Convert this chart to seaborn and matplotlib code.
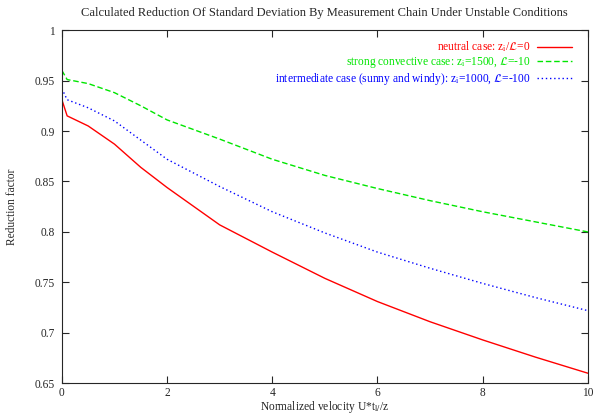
import matplotlib
matplotlib.use('Agg')
import matplotlib.pyplot as plt
import pandas as pd
import seaborn as sns

# normalized velocity U*t/z
u = [0, 0.1, 0.5, 1, 1.5, 2, 3, 4, 5, 6, 7, 8, 9, 10]

neutral = [0.931, 0.915, 0.905, 0.887, 0.864, 0.844, 0.807, 0.780, 0.754,
           0.731, 0.711, 0.693, 0.676, 0.660]
convective = [0.960, 0.951, 0.947, 0.938, 0.925, 0.911, 0.892, 0.872, 0.856,
              0.843, 0.831, 0.820, 0.810, 0.800]
intermediate = [0.942, 0.931, 0.923, 0.910, 0.891, 0.872, 0.845, 0.820, 0.799,
                0.780, 0.764, 0.749, 0.735, 0.722]

labels = [r'neutral case: z$_\mathrm{i}$/$\mathcal{L}$=0',
          r'strong convective case: z$_\mathrm{i}$=1500, $\mathcal{L}$=-10',
          r'intermediate case (sunny and windy): z$_\mathrm{i}$=1000, $\mathcal{L}$=-100']
colors = ['#ff0000', '#00e600', '#0000ff']
styles = ['-', (0, (4, 2)), (0, (1, 2))]

sns.set_style('ticks')
plt.rcParams['font.family'] = ['Liberation Serif', 'DejaVu Serif']
plt.rcParams['mathtext.fontset'] = 'stix'
plt.rcParams['font.size'] = 8.3
plt.rcParams['xtick.direction'] = 'in'
plt.rcParams['ytick.direction'] = 'in'

fig = plt.figure(figsize=(5.95, 4.18), dpi=100)
ax = fig.add_axes([0.104, 0.083, 0.884, 0.845])

for vals, lab, c, ls in zip([neutral, convective, intermediate], labels, colors, styles):
    df = pd.DataFrame({'u': u, 'r': vals})
    sns.lineplot(data=df, x='u', y='r', ax=ax, color=c, linestyle=ls,
                 linewidth=1, label=lab)

ax.set_xlim(0, 10)
ax.set_ylim(0.65, 1.0)
ax.set_xticks([0, 2, 4, 6, 8, 10])
ax.set_yticks([0.65, 0.7, 0.75, 0.8, 0.85, 0.9, 0.95, 1.0])
ax.set_yticklabels(['0.65', '0.7', '0.75', '0.8', '0.85', '0.9', '0.95', '1'])
ax.tick_params(top=True, right=True, length=5, width=0.8, labelsize=8.3, pad=5)
ax.tick_params(axis='x', pad=3)
for s in ax.spines.values():
    s.set_linewidth(0.8)

ax.set_title('Calculated Reduction Of Standard Deviation By Measurement Chain Under Unstable Conditions',
             fontsize=9, pad=10)
ax.set_xlabel(r'Normalized velocity U*t$_{\mathrm{l/}}$/z', fontsize=8.3, labelpad=0)
ax.set_ylabel('Reduction factor', fontsize=8.3, labelpad=12)

ax.legend(loc='upper right', frameon=False, markerfirst=False, labelcolor='linecolor',
          handlelength=3, handletextpad=0.6, labelspacing=0.05, fontsize=8.3,
          borderaxespad=0.3, bbox_to_anchor=(0.985, 0.995))

fig.savefig('out.png', dpi=100)
